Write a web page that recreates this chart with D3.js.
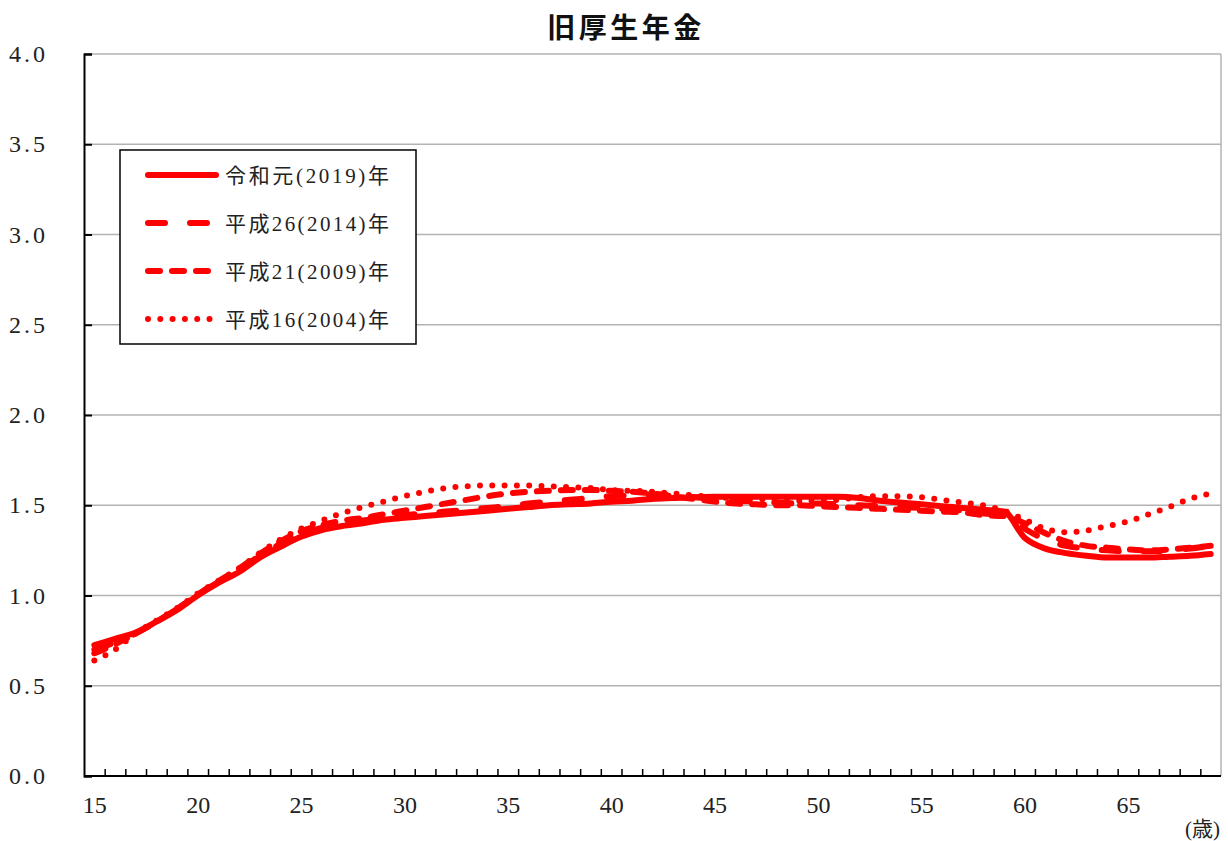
<!DOCTYPE html>
<html><head><meta charset="utf-8">
<script src="https://cdn.jsdelivr.net/npm/d3@7"></script>
<style>
body{margin:0;background:#fff;}
svg{display:block;}
</style></head>
<body>
<svg id="c" width="1228" height="841"></svg>
<script>
const title = "旧厚生年金";
const ages = d3.range(15, 70);
const seriesNames = ["令和元(2019)年", "平成26(2014)年", "平成21(2009)年", "平成16(2004)年"];
const yTickValues = [0, 0.5, 1.0, 1.5, 2.0, 2.5, 3.0, 3.5, 4.0];
const xLabelValues = [15, 20, 25, 30, 35, 40, 45, 50, 55, 60, 65];
const unitLabel = "(歳)";

const r2019 = [0.725,0.76,0.795,0.855,0.92,1.00,1.07,1.13,1.21,1.27,1.325,1.363,1.385,1.40,1.42,1.43,1.44,1.45,1.46,1.47,1.48,1.49,1.50,1.505,1.51,1.52,1.525,1.535,1.54,1.545,1.547,1.547,1.547,1.547,1.547,1.547,1.547,1.54,1.525,1.515,1.505,1.495,1.485,1.475,1.465,1.32,1.26,1.235,1.22,1.21,1.21,1.21,1.215,1.22,1.23];
const h2014 = [0.70,0.74,0.79,0.855,0.925,1.005,1.075,1.14,1.22,1.285,1.34,1.375,1.40,1.415,1.43,1.445,1.455,1.465,1.475,1.485,1.495,1.51,1.52,1.53,1.54,1.55,1.555,1.56,1.555,1.545,1.535,1.525,1.52,1.515,1.51,1.51,1.505,1.50,1.495,1.49,1.485,1.48,1.47,1.455,1.445,1.37,1.31,1.275,1.26,1.25,1.245,1.245,1.25,1.26,1.275];
const h2009 = [0.68,0.73,0.79,0.855,0.925,1.005,1.08,1.15,1.23,1.30,1.355,1.39,1.415,1.43,1.45,1.47,1.49,1.51,1.53,1.55,1.565,1.575,1.58,1.585,1.585,1.58,1.575,1.565,1.55,1.535,1.52,1.51,1.505,1.50,1.50,1.495,1.49,1.485,1.48,1.475,1.47,1.465,1.46,1.445,1.44,1.40,1.345,1.30,1.275,1.265,1.255,1.25,1.255,1.265,1.275];
const h2004 = [0.64,0.70,0.79,0.86,0.93,1.01,1.08,1.15,1.235,1.31,1.37,1.415,1.457,1.49,1.52,1.55,1.575,1.595,1.605,1.61,1.61,1.61,1.605,1.60,1.595,1.585,1.58,1.575,1.565,1.555,1.545,1.54,1.535,1.53,1.525,1.525,1.53,1.545,1.55,1.55,1.545,1.53,1.515,1.50,1.47,1.42,1.37,1.35,1.36,1.385,1.41,1.45,1.49,1.535,1.565];

const seriesValues = [r2019, h2014, h2009, h2004];
const dashes = [null, "17,25", "12,12", "0,12.3"];

const svg = d3.select("#c");
const L = 84, R = 1221, T = 54, B = 776;
const x = d3.scaleLinear().domain([14.5, 69.5]).range([L, R]);
const y = d3.scaleLinear().domain([0, 4]).range([B, T]);
const serif = "'Liberation Serif','Noto Sans CJK JP',serif";

// gridlines
svg.append("g").selectAll("line").data(yTickValues.filter(v => v > 0)).join("line")
  .attr("x1", L).attr("x2", R).attr("y1", d => y(d)).attr("y2", d => y(d))
  .attr("stroke", "#b3b3b3").attr("stroke-width", 1.5);
// right border
svg.append("line").attr("x1", R).attr("x2", R).attr("y1", T).attr("y2", B)
  .attr("stroke", "#b3b3b3").attr("stroke-width", 1.5);

// Y axis
const yAxis = d3.axisLeft(y).tickValues(yTickValues).tickSize(-8).tickPadding(36)
  .tickFormat(d3.format(".1f"));
const yg = svg.append("g").attr("transform", `translate(${L},0)`).call(yAxis);
yg.select(".domain").attr("stroke", "#000").attr("stroke-width", 2);
yg.selectAll(".tick line").attr("stroke", "#000").attr("stroke-width", 2);
yg.selectAll("text").attr("font-family", serif).attr("font-size", 24)
  .attr("letter-spacing", 3).attr("fill", "#222");

// X axis ticks at category boundaries
const xAxisTicks = d3.axisBottom(x).tickValues(d3.range(15.5, 69, 1)).tickSize(-7).tickFormat("");
const xg = svg.append("g").attr("transform", `translate(0,${B})`).call(xAxisTicks);
xg.select(".domain").attr("stroke", "#000").attr("stroke-width", 2).attr("d", `M${L},0H${R}`);
xg.selectAll(".tick line").attr("stroke", "#000").attr("stroke-width", 1.5);

// X labels
const xAxisLabels = d3.axisBottom(x).tickValues(xLabelValues).tickSize(0).tickPadding(20);
const xl = svg.append("g").attr("transform", `translate(0,${B})`).call(xAxisLabels);
xl.select(".domain").remove();
xl.selectAll("text").attr("font-family", serif).attr("font-size", 24).attr("fill", "#222");

svg.append("text").attr("x", 1220).attr("y", 836).attr("text-anchor", "end")
  .attr("font-family", serif).attr("font-size", 21).attr("fill", "#222").text(unitLabel);

// Lines
const line = d3.line().x((d, i) => x(ages[i])).y(d => y(d)).curve(d3.curveMonotoneX);
seriesValues.forEach((vals, k) => {
  svg.append("path").datum(vals).attr("d", line)
    .attr("fill", "none").attr("stroke", "#ff0000").attr("stroke-width", 6)
    .attr("stroke-linecap", "round").attr("stroke-linejoin", "round")
    .attr("stroke-dasharray", dashes[k]);
});

// Title
svg.append("text").attr("x", 626).attr("y", 38).attr("text-anchor", "middle")
  .attr("font-family", "'Noto Sans CJK JP',sans-serif").attr("font-weight", "bold")
  .attr("font-size", 28).attr("letter-spacing", 3.5).attr("fill", "#111").text(title);

// Legend
const lg = svg.append("g");
lg.append("rect").attr("x", 120).attr("y", 150).attr("width", 296).attr("height", 194)
  .attr("fill", "#fff").attr("stroke", "#000").attr("stroke-width", 1.5);
const rowsY = [175, 223, 271, 319];
seriesNames.forEach((name, k) => {
  lg.append("line").attr("x1", 148).attr("x2", k === 0 ? 216 : 211)
    .attr("y1", rowsY[k]).attr("y2", rowsY[k])
    .attr("stroke", "#ff0000").attr("stroke-width", 6)
    .attr("stroke-linecap", "round").attr("stroke-dasharray", dashes[k]);
  lg.append("text").attr("x", 225).attr("y", rowsY[k] + 8)
    .attr("font-family", serif).attr("font-size", 21).attr("fill", "#222")
    .attr("textLength", 164).attr("lengthAdjust", "spacing").text(name);
});
</script>
</body></html>
